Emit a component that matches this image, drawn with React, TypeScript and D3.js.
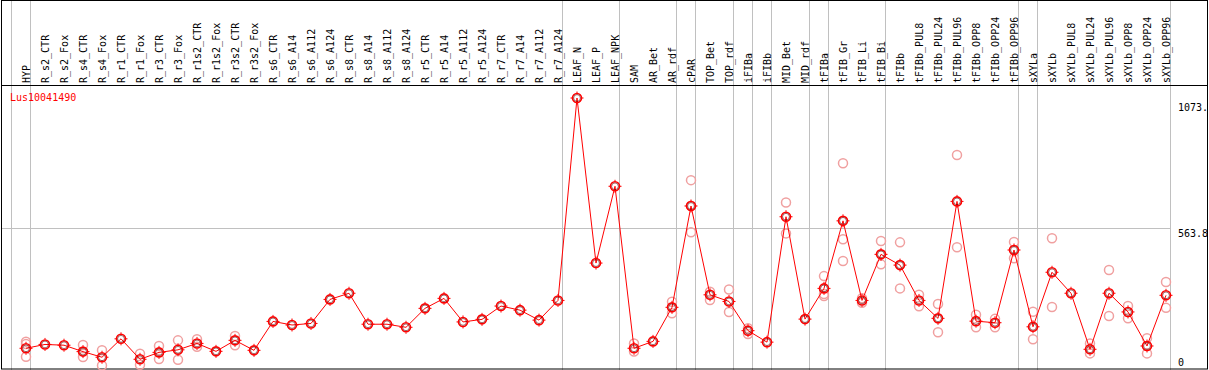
import React, { useEffect, useRef } from "react";
import * as d3 from "d3";

const geneName = "Lus10041490";

const categories = [
  "HYP", "R_s2_CTR", "R_s2_Fox", "R_s4_CTR", "R_s4_Fox", "R_r1_CTR", "R_r1_Fox", "R_r3_CTR", "R_r3_Fox",
  "R_r1s2_CTR", "R_r1s2_Fox", "R_r3s2_CTR", "R_r3s2_Fox", "R_s6_CTR", "R_s6_A14", "R_s6_A112", "R_s6_A124",
  "R_s8_CTR", "R_s8_A14", "R_s8_A112", "R_s8_A124", "R_r5_CTR", "R_r5_A14", "R_r5_A112", "R_r5_A124",
  "R_r7_CTR", "R_r7_A14", "R_r7_A112", "R_r7_A124", "LEAF_N", "LEAF_P", "LEAF_NPK", "SAM", "AR_Bet", "AR_rdf",
  "cPAR", "TOP_Bet", "TOP_rdf", "iFIBa", "iFIBb", "MID_Bet", "MID_rdf", "tFIBa", "tFIB_Gr", "tFIB_Li", "tFIB_Bi",
  "tFIBb", "tFIBb_PUL8", "tFIBb_PUL24", "tFIBb_PUL96", "tFIBb_OPP8", "tFIBb_OPP24", "tFIBb_OPP96",
  "sXYLa", "sXYLb", "sXYLb_PUL8", "sXYLb_PUL24", "sXYLb_PUL96", "sXYLb_OPP8", "sXYLb_OPP24", "sXYLb_OPP96",
];

const meanValues = [
  95, 110, 107, 82, 60, 132, 52, 79, 89, 114, 83, 126, 87, 200, 186, 192, 286,
  310, 189, 189, 177, 251, 290, 198, 208, 260, 244, 205, 282, 1073, 428, 728, 95, 122, 255,
  651, 304, 278, 164, 119, 609, 209, 329, 593, 282, 462,
  420, 282, 212, 669, 201, 195, 479,
  179, 392, 310, 91, 310, 237, 104, 302,
];

// individual samples, where they show beside the mean
const replicateValues: number[][] = [
  [121, 112, 62], [], [], [108, 61], [87, 28], [], [74, 31], [104, 53], [126, 50],
  [130, 101], [], [143, 107], [], [], [], [], [],
  [], [], [], [], [], [], [], [],
  [], [], [], [], [], [], [], [114, 82], [], [277, 232],
  [752, 548, 652], [316, 284], [325, 237], [173, 151], [], [665, 544], [], [377, 299, 307], [818, 521, 436], [291, 273], [514, 423],
  [509, 329], [304, 259], [268, 158], [850, 490], [226, 177], [210, 177], [510, 447],
  [238, 130], [525, 256], [], [114, 75], [401, 221], [260, 212], [134, 75], [354, 253],
];

// first index of each sample group
const groupStarts = [0, 1, 29, 32, 35, 36, 38, 39, 40, 42, 43, 46, 53, 54, 61];

const yTicks = [1073, 563.8, 0];
const yTickLabels = ["1073.", "563.8", "0"];

const W = 1209;
const H = 370;
const FONT = "'DejaVu Sans Mono', monospace";

export default function App() {
  const ref = useRef<SVGSVGElement>(null);

  useEffect(() => {
    const svg = d3.select(ref.current);
    svg.selectAll("*").remove();

    const headerY = 85;
    const band = d3.scaleBand<number>()
      .domain(d3.range(categories.length))
      .range([11, 1170])
      .padding(0);
    const px = (i: number) => (band(i) as number) + 15;
    const edge = (k: number) => 11 + k * band.step();

    const y = d3.scaleLinear().domain([0, 1073]).range([372.6, 98]);

    svg.append("rect").attr("width", W).attr("height", H).attr("fill", "white");

    // group separators
    svg.append("g").selectAll("line").data(groupStarts).join("line")
      .attr("x1", (k) => edge(k) + 0.5).attr("x2", (k) => edge(k) + 0.5)
      .attr("y1", 0).attr("y2", H)
      .attr("stroke", "#c0c0c0").attr("stroke-width", 1);

    // reference line at middle tick
    svg.append("line")
      .attr("x1", 1).attr("x2", edge(categories.length))
      .attr("y1", Math.round(y(563.8)) + 0.5).attr("y2", Math.round(y(563.8)) + 0.5)
      .attr("stroke", "#c0c0c0");

    // frame and header line
    svg.append("rect").attr("x", 1.5).attr("y", 0.5).attr("width", W - 3).attr("height", H - 1.5)
      .attr("fill", "none").attr("stroke", "black");
    svg.append("line").attr("x1", 1).attr("x2", W - 1).attr("y1", headerY + 0.5).attr("y2", headerY + 0.5)
      .attr("stroke", "black");

    // category labels, vertical
    svg.append("g").selectAll("text").data(categories).join("text")
      .attr("transform", (_d, i) => `translate(${px(i) + 4},${headerY - 2}) rotate(-90)`)
      .attr("font-family", FONT).attr("font-size", 10).attr("fill", "black")
      .text((d) => d);

    // y tick labels
    svg.append("g").selectAll("text").data(yTicks).join("text")
      .attr("x", 1178)
      .attr("y", (d) => Math.min(Math.max(y(d) + 8.5, 111), 366))
      .attr("font-family", FONT).attr("font-size", 10).attr("fill", "black")
      .text((_d, i) => yTickLabels[i]);

    svg.append("text").attr("x", 10).attr("y", 101)
      .attr("font-family", FONT).attr("font-size", 10).attr("fill", "red")
      .text(geneName);

    // replicates
    const reps = categories.flatMap((_c, i) => replicateValues[i].map((v) => ({ i, v })));
    svg.append("g").selectAll("circle").data(reps).join("circle")
      .attr("cx", (d) => px(d.i)).attr("cy", (d) => y(d.v)).attr("r", 4.5)
      .attr("fill", "none").attr("stroke", "#f0a0a0").attr("stroke-width", 1.5);

    // mean line
    const line = d3.line<number>().x((_d, i) => px(i)).y((d) => y(d));
    svg.append("path").datum(meanValues).attr("d", line)
      .attr("fill", "none").attr("stroke", "red").attr("stroke-width", 1);

    const means = svg.append("g").selectAll("g").data(meanValues).join("g")
      .attr("transform", (d, i) => `translate(${px(i)},${y(d)})`);
    means.append("circle").attr("r", 4.5).attr("fill", "none").attr("stroke", "red").attr("stroke-width", 1.6);
    means.append("circle").attr("r", 3.4).attr("fill", "none").attr("stroke", "#600000").attr("stroke-width", 0.6);
    means.append("path").attr("d", "M0,-6.5V-5M0,5V6.5M-6.5,0H-5M5,0H6.5")
      .attr("stroke", "red").attr("stroke-width", 1);
  }, []);

  return (
    <svg ref={ref} width={W} height={H}
      style={{ position: "absolute", left: 0, top: 0, display: "block" }} />
  );
}
